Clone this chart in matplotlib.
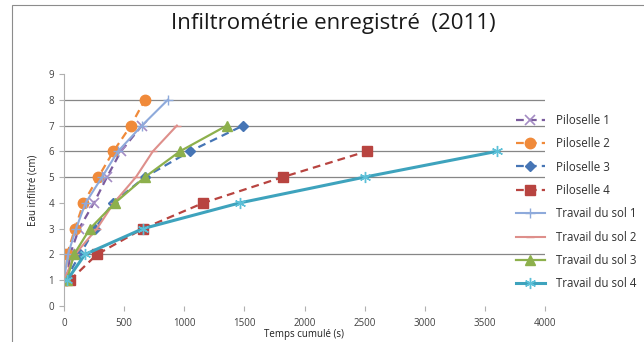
import matplotlib.pyplot as plt
from matplotlib.patches import Rectangle

# water infiltrated (cm) at each reading
levels = [1, 2, 3, 4, 5, 6, 7, 8]

# cumulated time (s) for each series
pil1_t = [30, 50, 125, 249, 357, 473, 648]
pil2_t = [15, 25, 91, 162, 285, 411, 556, 673]
pil3_t = [10, 133, 257, 407, 673, 1047, 1490]
pil4_t = [50, 274, 656, 1160, 1819, 2517]
trav1_t = [0, 33, 100, 180, 316, 449, 648, 864]
trav2_t = [0, 91, 274, 415, 598, 739, 939]
trav3_t = [25, 83, 216, 424, 673, 964, 1354]
trav4_t = [25, 174, 656, 1462, 2500, 3600]

labels = ["Piloselle 1", "Piloselle 2", "Piloselle 3", "Piloselle 4",
          "Travail du sol 1", "Travail du sol 2", "Travail du sol 3", "Travail du sol 4"]
x_ticks = [0, 500, 1000, 1500, 2000, 2500, 3000, 3500, 4000]
y_ticks = [0, 1, 2, 3, 4, 5, 6, 7, 8, 9]
grid_levels = [2, 5, 6, 7, 8]

plt.rcParams['font.family'] = ['Open Sans', 'DejaVu Sans']

fig = plt.figure(figsize=(6.44, 3.42), dpi=100)
ax = fig.add_axes([64 / 644, 1 - 306 / 342, (545 - 64) / 644, (306 - 74) / 342])

# chart frame
fig.patches.append(Rectangle((12 / 644, -0.1), 1.2, 1 - 5 / 342 + 0.1, transform=fig.transFigure,
                             fill=False, edgecolor='#8c8c8c', linewidth=0.8))

for g in grid_levels:
    ax.axhline(g, color='#868686', linewidth=0.9, zorder=0)

dash = (3.5, 2.3)
series = [
    (pil1_t, dict(color='#7b5c9e', ls='--', dashes=dash, lw=1.6, marker='x', ms=7, mew=1.2, mec='#a48cc4')),
    (pil2_t, dict(color='#f08a3a', ls='--', dashes=dash, lw=1.6, marker='o', ms=7.5)),
    (pil3_t, dict(color='#4675b5', ls='--', dashes=dash, lw=1.6, marker='D', ms=5.5)),
    (pil4_t, dict(color='#b84440', ls='--', dashes=dash, lw=1.6, marker='s', ms=7.5)),
    (trav1_t, dict(color='#8eaadb', ls='-', lw=1.5, marker='+', ms=7, mew=1.0)),
    (trav2_t, dict(color='#de8f8b', ls='-', lw=1.5, marker='_', ms=6, mew=1.0)),
    (trav3_t, dict(color='#8db04c', ls='-', lw=1.6, marker='^', ms=7)),
    (trav4_t, dict(color='#3ea3bd', ls='-', lw=2.2, marker=(6, 2, 0), ms=8, mew=1.0, mec='#5cc0d8')),
]
for (t, style), lab in zip(series, labels):
    ax.plot(t, levels[:len(t)], label=lab, **style)

ax.set_xlim(0, 4000)
ax.set_ylim(0, 9)
ax.set_xticks(x_ticks)
ax.set_yticks(y_ticks)
for s in ['top', 'right', 'bottom']:
    ax.spines[s].set_visible(False)
ax.spines['left'].set_color('#b0b0b0')
ax.tick_params(axis='both', colors='#b0b0b0', length=3.5, width=0.8, labelsize=7,
               labelcolor='#404040')
ax.tick_params(axis='x', pad=5)

ax.set_xlabel("Temps cumulé (s)", fontsize=7, color='#202020', labelpad=0)
ax.set_ylabel("Eau infiltré (cm)", fontsize=7, color='#202020', labelpad=7)
fig.text(333 / 644, 1 - 23 / 342, "Infiltrométrie enregistré  (2011)", ha='center', va='center',
         fontsize=16, color='#1a1a1a')

leg = ax.legend(loc='upper left', bbox_to_anchor=(510 / 644, 1 - 108 / 342),
                bbox_transform=fig.transFigure, frameon=False, fontsize=8.3,
                handlelength=2.5, handletextpad=1.0, labelspacing=0.9, borderpad=0)
for txt in leg.get_texts():
    txt.set_color('#303030')

fig.savefig("out.png", dpi=100)
